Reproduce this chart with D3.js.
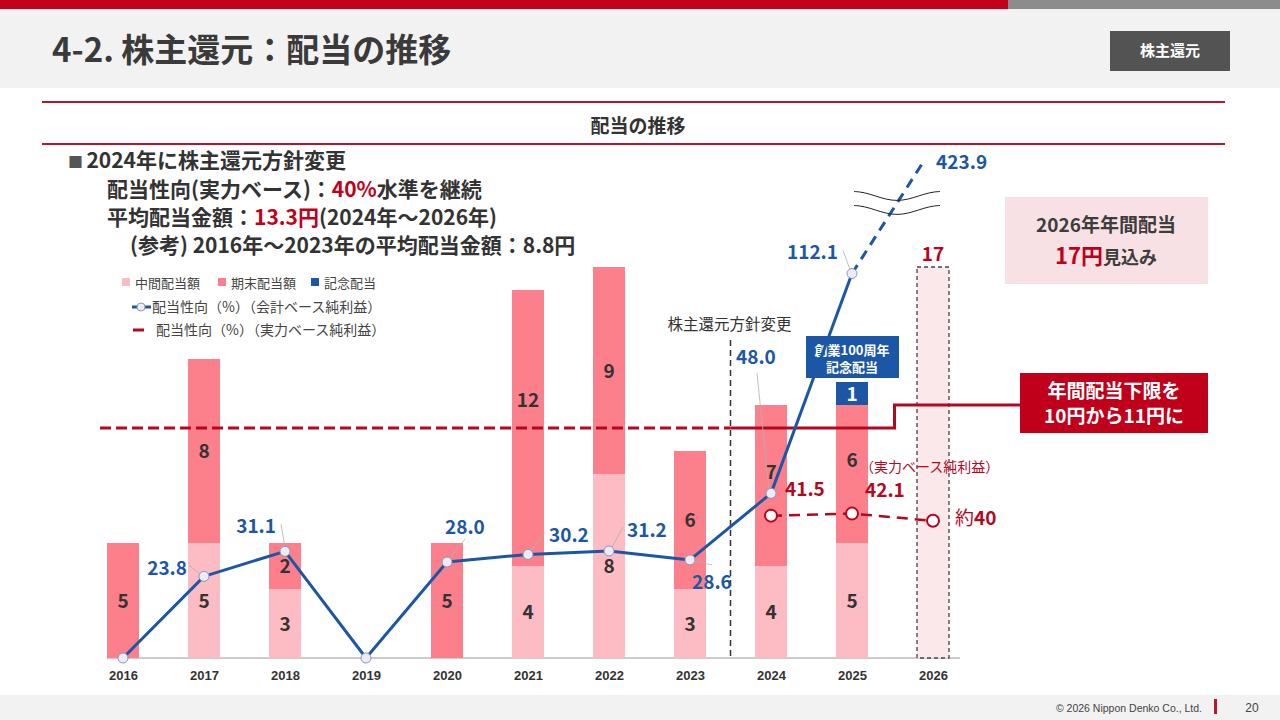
<!DOCTYPE html>
<html>
<head>
<meta charset="utf-8">
<script src="https://cdn.jsdelivr.net/npm/d3@7"></script>
<style>
  html, body { margin: 0; padding: 0; background: #fff; }
  svg { display: block; font-family: "Noto Sans CJK JP", "Noto Sans", sans-serif; }
</style>
</head>
<body>
<script>
// data
const years = ["2016", "2017", "2018", "2019", "2020", "2021", "2022", "2023", "2024", "2025", "2026"];
const interimDiv = [0, 5, 3, 0, 0, 4, 8, 3, 4, 5, null];
const yearEndDiv = [5, 8, 2, 0, 5, 12, 9, 6, 7, 6, null];
const memorialDiv = [0, 0, 0, 0, 0, 0, 0, 0, 0, 1, null];
const forecastDiv = [null, null, null, null, null, null, null, null, null, null, 17];
const payoutAccounting = [0, 23.8, 31.1, 0, 28.0, 30.2, 31.2, 28.6, 48.0, 112.1];
const payoutAccountingOff = 423.9;      // off the scale, drawn past the break
const payoutUnderlyingYears = ["2024", "2025", "2026"];
const payoutUnderlying = [41.5, 42.1, 40];
const dividendFloor = [10, 11];        // before / after the 2024 policy change

const W = 1280, H = 720;
const svg = d3.select("body").append("svg").attr("width", W).attr("height", H);

const red = "#c0001a", blue = "#1c57a5", dark = "#333333", lineRed = "#b5081e";
const colInterim = "#fdbcc3", colYearEnd = "#fc808c";

// ---- header
svg.append("rect").attr("x", 0).attr("y", 0).attr("width", W).attr("height", 88).attr("fill", "#f2f2f2");
svg.append("rect").attr("x", 0).attr("y", 0).attr("width", 1008).attr("height", 9).attr("fill", "#c4001a");
svg.append("rect").attr("x", 1008).attr("y", 0).attr("width", W - 1008).attr("height", 9).attr("fill", "#8c8c8c");
svg.append("text").attr("x", 52).attr("y", 62)
    .attr("fill", "#3a3a3a").style("font-size", "33px").style("font-weight", 700)
    .text("4-2. 株主還元：配当の推移");
svg.append("rect").attr("x", 1110).attr("y", 31).attr("width", 120).attr("height", 40).attr("fill", "#535353");
svg.append("text").attr("x", 1170).attr("y", 56).attr("text-anchor", "middle")
    .attr("fill", "#fff").style("font-size", "15px").style("font-weight", 700).text("株主還元");

// section title
[102, 144].forEach(y => svg.append("line").attr("x1", 42).attr("x2", 1225).attr("y1", y).attr("y2", y)
    .attr("stroke", "#b5182c").attr("stroke-width", 2));
svg.append("text").attr("x", 638).attr("y", 133).attr("text-anchor", "middle")
    .attr("fill", dark).style("font-size", "19px").style("font-weight", 700).text("配当の推移");

// footer
svg.append("rect").attr("x", 0).attr("y", 695).attr("width", W).attr("height", 25).attr("fill", "#f2f2f2");
svg.append("text").attr("x", 1202).attr("y", 712).attr("text-anchor", "end")
    .attr("fill", "#444").style("font-family", "'Liberation Sans', Arial, sans-serif").style("font-size", "10.5px")
    .text("© 2026 Nippon Denko Co., Ltd.");
svg.append("rect").attr("x", 1214).attr("y", 699).attr("width", 3).attr("height", 15).attr("fill", "#b5182c");
svg.append("text").attr("x", 1252).attr("y", 712).attr("text-anchor", "middle")
    .attr("fill", "#444").style("font-family", "'Liberation Sans', Arial, sans-serif").style("font-size", "12px").text("20");

// ---- policy text block
const note = svg.append("g").attr("fill", dark).style("font-size", "21px").style("font-weight", 700);
note.append("text").attr("x", 68).attr("y", 168)
    .call(t => { t.append("tspan").attr("fill", "#555").style("font-size", "15px").text("■ "); t.append("tspan").text("2024年に株主還元方針変更"); });
note.append("text").attr("x", 107).attr("y", 197)
    .call(t => {
        t.append("tspan").text("配当性向(実力ベース)：");
        t.append("tspan").attr("fill", red).text("40%");
        t.append("tspan").text("水準を継続");
    });
note.append("text").attr("x", 107).attr("y", 225)
    .call(t => {
        t.append("tspan").text("平均配当金額：");
        t.append("tspan").attr("fill", red).text("13.3円");
        t.append("tspan").text("(2024年～2026年)");
    });
note.append("text").attr("x", 130).attr("y", 253).text("(参考) 2016年～2023年の平均配当金額：8.8円");

// ---- scales
const x = d3.scalePoint().domain(years).range([123, 933]);
const barW = 32;
const yBar = d3.scaleLinear().domain([0, 17]).range([658, 267]);
const yPct = d3.scaleLinear().domain([0, 100]).range([658, 315]);

// axis
const axis = svg.append("g").attr("transform", `translate(0,${yBar(0)})`)
    .call(d3.axisBottom(x).tickSize(0).tickPadding(13));
axis.select(".domain").attr("d", `M${x("2016") - barW / 2},0H${x("2026") + 27}`).attr("stroke", "#9a9a9a").attr("stroke-width", 1.2);
axis.selectAll("text").attr("fill", dark)
    .style("font-family", "'Liberation Sans', Arial, sans-serif").style("font-size", "13px").style("font-weight", 700);

// ---- stacked bars
const rows = years.map((yr, i) => ({ yr, interim: interimDiv[i], yearEnd: yearEndDiv[i], memorial: memorialDiv[i] }))
    .filter(d => d.interim !== null);
const stack = d3.stack().keys(["interim", "yearEnd", "memorial"])(rows);
const segColors = { interim: colInterim, yearEnd: colYearEnd, memorial: blue };
const bars = svg.append("g");
stack.forEach(layer => {
    bars.selectAll(null).data(layer.filter(d => d[1] > d[0])).enter().append("rect")
        .attr("x", d => x(d.data.yr) - barW / 2)
        .attr("y", d => yBar(d[1]))
        .attr("width", barW)
        .attr("height", d => yBar(d[0]) - yBar(d[1]))
        .attr("fill", segColors[layer.key]);
});

// 2026 forecast bar
const fc = years.map((yr, i) => ({ yr, v: forecastDiv[i] })).filter(d => d.v !== null);
svg.append("g").selectAll("rect").data(fc).enter().append("rect")
    .attr("x", d => x(d.yr) - barW / 2).attr("y", d => yBar(d.v))
    .attr("width", barW).attr("height", d => yBar(0) - yBar(d.v))
    .attr("fill", "#fbe8ea").attr("stroke", "#444").attr("stroke-width", 1.3).attr("stroke-dasharray", "4,3");
svg.append("g").selectAll("text").data(fc).enter().append("text")
    .attr("x", d => x(d.yr)).attr("y", d => yBar(d.v) - 6).attr("text-anchor", "middle")
    .attr("fill", red).style("font-size", "19px").style("font-weight", 700).text(d => d.v);

// policy change divider
const divX = (x("2023") + x("2024")) / 2;
svg.append("line").attr("x1", divX).attr("x2", divX).attr("y1", 340).attr("y2", yBar(0))
    .attr("stroke", dark).attr("stroke-width", 1.5).attr("stroke-dasharray", "6,4");
svg.append("text").attr("x", divX - 1).attr("y", 330).attr("text-anchor", "middle")
    .attr("fill", dark).style("font-size", "15.5px").text("株主還元方針変更");

// dividend floor line
const stepX = (x("2025") + x("2026")) / 2 + 2;
svg.append("line").attr("x1", 100).attr("x2", divX).attr("y1", yBar(dividendFloor[0])).attr("y2", yBar(dividendFloor[0]))
    .attr("stroke", lineRed).attr("stroke-width", 3).attr("stroke-dasharray", "11,5");
svg.append("path")
    .attr("d", d3.line()([[divX, yBar(dividendFloor[0])], [stepX, yBar(dividendFloor[0])], [stepX, yBar(dividendFloor[1])], [1020, yBar(dividendFloor[1])]]))
    .attr("fill", "none").attr("stroke", lineRed).attr("stroke-width", 3);

// bar segment labels (a few nudged off the lines, as on the slide)
const labelNudge = { "yearEnd-2021": -28, "yearEnd-2024": -14, "yearEnd-2025": -14 };
stack.forEach(layer => {
    const memo = layer.key === "memorial";
    svg.append("g").selectAll("text").data(layer.filter(d => d[1] > d[0])).enter().append("text")
        .attr("x", d => x(d.data.yr))
        .attr("y", d => (yBar(d[0]) + yBar(d[1])) / 2 + 7 + (labelNudge[`${layer.key}-${d.data.yr}`] || 0))
        .attr("text-anchor", "middle")
        .attr("fill", memo ? "#fff" : dark)
        .style("font-size", "19px").style("font-weight", 700)
        .text(d => d[1] - d[0]);
});

// 100th anniversary tag
svg.append("rect").attr("x", 806).attr("y", 336).attr("width", 93).attr("height", 42).attr("fill", blue);
svg.append("text").attr("x", 852).attr("y", 355).attr("text-anchor", "middle").attr("fill", "#fff")
    .style("font-size", "13px").style("font-weight", 700).text("創業100周年");
svg.append("text").attr("x", 852).attr("y", 372).attr("text-anchor", "middle").attr("fill", "#fff")
    .style("font-size", "13px").style("font-weight", 700).text("記念配当");

// ---- payout ratio line (accounting basis)
const pts = payoutAccounting.map((v, i) => ({ yr: years[i], v }));
const lastPt = pts[pts.length - 1];
// dashed continuation up to the off-scale value, through the axis break
const offX = x(lastPt.yr) + x.step() * 0.89, offY = yPct(145);
svg.append("line").attr("x1", x(lastPt.yr)).attr("y1", yPct(lastPt.v)).attr("x2", offX).attr("y2", offY)
    .attr("stroke", blue).attr("stroke-width", 3).attr("stroke-dasharray", "10,7");
// break marks
const wave = d3.line().curve(d3.curveBasis);
[196, 210].forEach(cy => {
    const p = d3.range(0, 1.001, 1 / 16).map(t => [854 + 86 * t, cy - 4.5 * Math.sin(t * Math.PI * 2 + Math.PI / 2)]);
    svg.append("path").attr("d", wave(p)).attr("fill", "none").attr("stroke", "#222").attr("stroke-width", 1);
});
svg.append("path").datum(pts)
    .attr("d", d3.line().x(d => x(d.yr)).y(d => yPct(d.v)))
    .attr("fill", "none").attr("stroke", blue).attr("stroke-width", 3).attr("stroke-linejoin", "round");

// leader lines and labels
const blueLabels = [
    null,
    { tx: -17, ty: -1, anchor: "end", l: [[-15, -11], [-2, -1]] },
    { tx: -9, ty: -18, anchor: "end", l: [[-4, -27], [0, -4]] },
    null,
    { tx: -2, ty: -28, anchor: "start", l: [[18, -23], [2, -3]] },
    { tx: 21, ty: -12, anchor: "start", l: [[17, -22], [2, -2]] },
    { tx: 18, ty: -14, anchor: "start", l: [[14, -24], [2, -2]] },
    { tx: 2, ty: 29, anchor: "start", l: [[22, 5], [3, 1]] },
    { tx: -35, ty: -129, anchor: "start", l: [[-14, -120], [-2, -4]] },
    { tx: -14, ty: -14, anchor: "end", l: [[-9, -23], [-2, -4]] }
];
pts.forEach((d, i) => {
    const b = blueLabels[i];
    if (!b) return;
    const px = x(d.yr), py = yPct(d.v);
    svg.append("line").attr("x1", px + b.l[0][0]).attr("y1", py + b.l[0][1]).attr("x2", px + b.l[1][0]).attr("y2", py + b.l[1][1])
        .attr("stroke", "#b0b0b0").attr("stroke-width", 0.8);
    svg.append("text").attr("x", px + b.tx).attr("y", py + b.ty).attr("text-anchor", b.anchor)
        .attr("fill", blue).style("font-size", "19px").style("font-weight", 700).text(d.v.toFixed(1));
});
svg.append("text").attr("x", offX + 12).attr("y", offY + 8).attr("fill", blue)
    .style("font-size", "19px").style("font-weight", 700).text(payoutAccountingOff.toFixed(1));

svg.append("g").selectAll("circle").data(pts).enter().append("circle")
    .attr("cx", d => x(d.yr)).attr("cy", d => yPct(d.v)).attr("r", 5)
    .attr("fill", "#ececf6").attr("stroke", "#8d95b8").attr("stroke-width", 1);

// ---- payout ratio (underlying basis)
const upts = payoutUnderlying.map((v, i) => ({ yr: payoutUnderlyingYears[i], v }));
svg.append("path").datum(upts)
    .attr("d", d3.line().x(d => x(d.yr)).y(d => yPct(d.v)))
    .attr("fill", "none").attr("stroke", lineRed).attr("stroke-width", 2.5).attr("stroke-dasharray", "11,7");
svg.append("g").selectAll("circle").data(upts).enter().append("circle")
    .attr("cx", d => x(d.yr)).attr("cy", d => yPct(d.v)).attr("r", 6)
    .attr("fill", "#fff").attr("stroke", lineRed).attr("stroke-width", 2);
const redLab = [{ tx: 14, ty: -20 }, { tx: 13, ty: -17 }, null];
upts.forEach((d, i) => {
    const r = redLab[i];
    if (!r) return;
    svg.append("text").attr("x", x(d.yr) + r.tx).attr("y", yPct(d.v) + r.ty)
        .attr("fill", lineRed).style("font-size", "19px").style("font-weight", 700).text(d.v.toFixed(1));
});
const lastU = upts[upts.length - 1];
svg.append("text").attr("x", x(lastU.yr) + 22).attr("y", yPct(lastU.v) + 4)
    .attr("fill", lineRed).style("font-size", "19px")
    .call(t => { t.append("tspan").text("約"); t.append("tspan").style("font-weight", 700).text(lastU.v); });
svg.append("text").attr("x", x("2025") + 8).attr("y", 472)
    .attr("fill", lineRed).style("font-size", "14px").text("（実力ベース純利益）");

// ---- legend
const lg = svg.append("g").attr("fill", "#444");
[["中間配当額", colInterim, 122], ["期末配当額", colYearEnd, 218], ["記念配当", blue, 311]].forEach(([t, c, lx]) => {
    lg.append("rect").attr("x", lx).attr("y", 278).attr("width", 8).attr("height", 8).attr("fill", c);
    lg.append("text").attr("x", lx + 13).attr("y", 288).style("font-size", "13px").text(t);
});
lg.append("line").attr("x1", 132).attr("x2", 151).attr("y1", 307).attr("y2", 307).attr("stroke", blue).attr("stroke-width", 3);
lg.append("circle").attr("cx", 141).attr("cy", 307).attr("r", 4).attr("fill", "#ececf6").attr("stroke", "#8d95b8");
lg.append("text").attr("x", 152).attr("y", 312).style("font-size", "14px").text("配当性向（%）（会計ベース純利益）");
lg.append("line").attr("x1", 133).attr("x2", 144).attr("y1", 330).attr("y2", 330).attr("stroke", lineRed).attr("stroke-width", 3);
lg.append("text").attr("x", 156).attr("y", 335).style("font-size", "14px").text("配当性向（%）（実力ベース純利益）");

// ---- call-out boxes
svg.append("rect").attr("x", 1005).attr("y", 197).attr("width", 203).attr("height", 87).attr("fill", "#f8e1e4");
svg.append("text").attr("x", 1106).attr("y", 232).attr("text-anchor", "middle")
    .attr("fill", "#3d3d3d").style("font-size", "19px").style("font-weight", 700).text("2026年年間配当");
svg.append("text").attr("x", 1106).attr("y", 264).attr("text-anchor", "middle").style("font-weight", 700)
    .call(t => {
        t.append("tspan").attr("fill", red).style("font-size", "22px").text("17円");
        t.append("tspan").attr("fill", "#3d3d3d").style("font-size", "18px").text("見込み");
    });

svg.append("rect").attr("x", 1020).attr("y", 373).attr("width", 188).attr("height", 60).attr("fill", red);
svg.append("text").attr("x", 1114).attr("y", 398).attr("text-anchor", "middle")
    .attr("fill", "#fff").style("font-size", "19px").style("font-weight", 700).text("年間配当下限を");
svg.append("text").attr("x", 1114).attr("y", 423).attr("text-anchor", "middle")
    .attr("fill", "#fff").style("font-size", "19px").style("font-weight", 700).text("10円から11円に");
</script>
</body>
</html>
